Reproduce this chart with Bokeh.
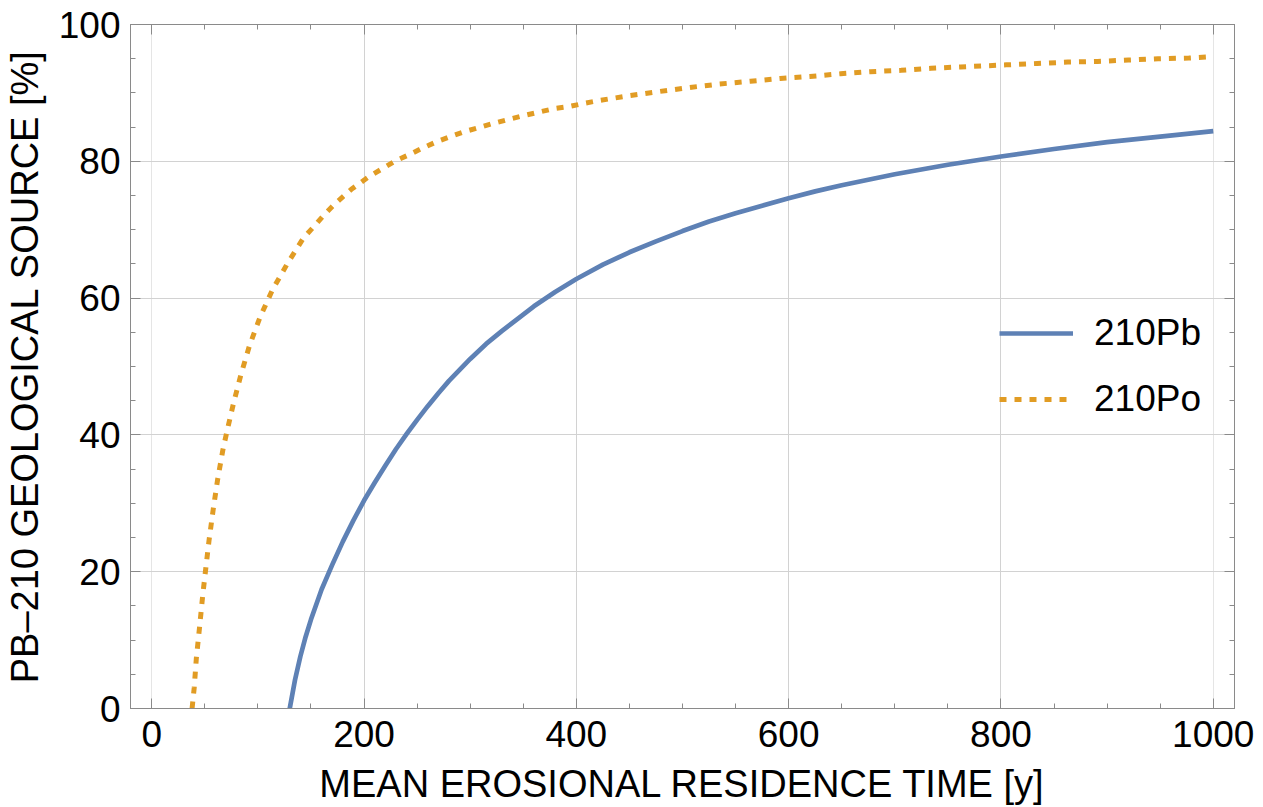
import numpy as np
from bokeh.plotting import figure
from bokeh.models import (Range1d, LinearAxis, SingleIntervalTicker, FixedTicker, Grid,
                          Legend, LegendItem, CustomJSTickFormatter, ColumnDataSource)
from bokeh.embed import file_html
from bokeh.resources import INLINE

# ---- data ----
series_names = ["210Pb", "210Po"]

pb_time = [130, 135, 140, 145, 150, 160, 170, 180, 190, 200, 210, 220, 230, 240, 250,
           260, 270, 280, 290, 300, 315, 330, 345, 360, 380, 400, 425, 450, 475, 500,
           525, 550, 575, 600, 625, 650, 675, 700, 750, 800, 850, 900, 950, 1000]
pb_source = [0.0, 4.2, 7.6, 10.5, 13.0, 17.4, 21.0, 24.4, 27.5, 30.4, 33.0, 35.5, 37.9,
             40.1, 42.2, 44.2, 46.1, 47.9, 49.5, 51.1, 53.3, 55.2, 57.0, 58.8, 60.9, 62.8,
             64.9, 66.7, 68.3, 69.8, 71.2, 72.4, 73.5, 74.6, 75.6, 76.5, 77.3, 78.1, 79.5,
             80.7, 81.8, 82.8, 83.6, 84.4]

po_time = [38, 40, 42, 45, 48, 51, 54, 58, 62, 67, 71, 77, 84, 92, 102, 114, 128, 143,
           153, 162, 172, 188, 205, 217, 230, 243, 256, 269, 283, 296, 310, 323, 338, 351,
           365, 379, 393, 408, 422, 450, 478, 507, 535, 564, 592, 620, 649, 677, 706, 734,
           762, 805, 834, 863, 891, 920, 948, 977, 1000]
po_source = [0.0, 3.0, 7.3, 11.8, 16.5, 20.6, 24.6, 29.2, 33.4, 37.8, 40.6, 44.6, 48.8,
             53.0, 57.2, 61.3, 65.1, 68.8, 70.5, 72.1, 73.7, 75.9, 77.8, 78.9, 80.1, 81.0,
             82.0, 82.9, 83.7, 84.4, 85.0, 85.6, 86.2, 86.7, 87.2, 87.7, 88.0, 88.5, 88.9,
             89.6, 90.2, 90.8, 91.3, 91.7, 92.1, 92.4, 92.8, 93.1, 93.3, 93.6, 93.8, 94.1,
             94.3, 94.5, 94.6, 94.8, 95.0, 95.1, 95.3]

x_grid_values = [200, 400, 600, 800]
y_grid_values = [20, 40, 60, 80]
x_label = "MEAN EROSIONAL RESIDENCE TIME [y]"
y_label = "PB\u2013210 GEOLOGICAL SOURCE [%]"

# ---- styling ----
FONT = "Liberation Sans"
FRAME = "#8a8a8a"
BLUE = "#5e81b5"
ORANGE = "#e19c24"

p = figure(width=1263, height=807, output_backend="svg", toolbar_location=None,
           x_range=Range1d(-20, 1020), y_range=Range1d(0, 100),
           x_axis_location=None, y_axis_location=None,
           min_border_left=129, min_border_right=29, min_border_top=24, min_border_bottom=99)
p.outline_line_color = FRAME
p.outline_line_width = 1
p.background_fill_color = "white"
p.border_fill_color = "white"


def style_axis(ax, labels=True):
    ax.axis_line_color = FRAME
    ax.major_tick_line_color = FRAME
    ax.minor_tick_line_color = FRAME
    ax.major_tick_in = 10
    ax.major_tick_out = 0
    ax.minor_tick_in = 5
    ax.minor_tick_out = 0
    ax.major_label_text_font = FONT
    ax.major_label_text_font_size = "37px"
    ax.major_label_text_color = "black"
    ax.axis_label_text_font = FONT
    ax.axis_label_text_font_size = "38px"
    ax.axis_label_text_font_style = "normal"
    ax.axis_label_text_color = "black"
    if not labels:
        ax.formatter = CustomJSTickFormatter(code="return ''")


xb = LinearAxis(ticker=SingleIntervalTicker(interval=200, num_minor_ticks=4), axis_label=x_label)
style_axis(xb)
xb.major_label_standoff = 12
xb.axis_label_standoff = 13
p.add_layout(xb, "below")

xa = LinearAxis(ticker=SingleIntervalTicker(interval=200, num_minor_ticks=4))
style_axis(xa, labels=False)
p.add_layout(xa, "above")

yl = LinearAxis(ticker=SingleIntervalTicker(interval=20, num_minor_ticks=4), axis_label=y_label)
style_axis(yl)
yl.major_label_standoff = 10
yl.axis_label_standoff = 10
p.add_layout(yl, "left")

yr = LinearAxis(ticker=SingleIntervalTicker(interval=20, num_minor_ticks=4))
style_axis(yr, labels=False)
p.add_layout(yr, "right")

gx = Grid(dimension=0, ticker=FixedTicker(ticks=x_grid_values),
          grid_line_color="#d2d2d2", grid_line_width=1)
gy = Grid(dimension=1, ticker=FixedTicker(ticks=y_grid_values),
          grid_line_color="#d2d2d2", grid_line_width=1)
p.add_layout(gx)
p.add_layout(gy)

src_pb = ColumnDataSource(dict(x=pb_time, y=pb_source))
src_po = ColumnDataSource(dict(x=po_time, y=po_source))

r_po = p.line("x", "y", source=src_po, line_color=ORANGE, line_width=5, line_dash="7 8",
              line_cap="butt", line_join="round")
r_pb = p.line("x", "y", source=src_pb, line_color=BLUE, line_width=4.7, line_join="round")

legend = Legend(items=[LegendItem(label=series_names[0], renderers=[r_pb]),
                       LegendItem(label=series_names[1], renderers=[r_po])],
                location=(869, 288), glyph_width=74, glyph_height=40, label_height=40,
                label_width=10, spacing=24, padding=0, margin=0, label_standoff=21,
                border_line_alpha=0, background_fill_alpha=0,
                label_text_font=FONT, label_text_font_size="37px",
                label_text_color="black")
p.add_layout(legend)

open("out.html", "w").write(file_html(p, INLINE))
